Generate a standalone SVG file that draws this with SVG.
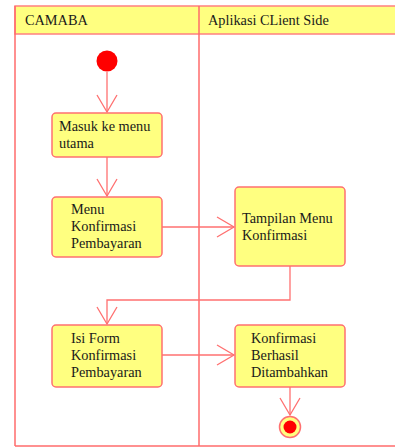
<svg xmlns="http://www.w3.org/2000/svg" width="395" height="447" viewBox="0 0 395 447">
  <defs>
    <style>
      .lane { fill: none; stroke: #ff6b6b; stroke-width: 1.5; }
      .head { fill: #ffff80; stroke: #ff8080; stroke-width: 1.5; }
      .act { fill: #ffff80; stroke: #ff7070; stroke-width: 1.5; }
      .lbl { font-family: "Liberation Serif", "Times New Roman", serif; font-size: 14.3px; fill: #1a1a1a; }
      .flow { fill: none; stroke: #ff7070; stroke-width: 1.3; }
    </style>
    <marker id="open" viewBox="0 0 20 22" refX="18" refY="11" markerWidth="20" markerHeight="22" markerUnits="userSpaceOnUse" orient="auto">
      <path d="M1 1 L18 11 L1 21" fill="none" stroke="#ff7070" stroke-width="1.3"/>
    </marker>
  </defs>

  <!-- swimlanes -->
  <g id="lanes">
    <rect class="head" x="15" y="6" width="390" height="28"/>
    <line class="lane" x1="15" y1="6" x2="15" y2="446"/>
    <line class="lane" x1="199" y1="6" x2="199" y2="446"/>
    <line class="lane" x1="15" y1="446" x2="395" y2="446"/>
    <text class="lbl" x="25" y="25">CAMABA</text>
    <text class="lbl" x="208" y="25">Aplikasi CLient Side</text>
  </g>

  <!-- control flow -->
  <g id="connectors">
    <line class="flow" x1="107" y1="72" x2="107" y2="112" marker-end="url(#open)"/>
    <line class="flow" x1="107" y1="157" x2="107" y2="196" marker-end="url(#open)"/>
    <line class="flow" x1="162" y1="227" x2="234" y2="227" marker-end="url(#open)"/>
    <polyline class="flow" points="290,266 290,300 107,300 107,324" marker-end="url(#open)"/>
    <line class="flow" x1="162" y1="355" x2="234" y2="355" marker-end="url(#open)"/>
    <line class="flow" x1="290" y1="387" x2="290" y2="415" marker-end="url(#open)"/>
  </g>

  <g id="start">
    <circle cx="107" cy="61" r="10.5" fill="#ff0000"/>
  </g>

  <g id="masuk">
    <rect class="act" x="52" y="113" width="110" height="44" rx="4"/>
    <text class="lbl" x="59" y="131">Masuk ke menu</text>
    <text class="lbl" x="59" y="148">utama</text>
  </g>

  <g id="menu-konfirmasi">
    <rect class="act" x="52" y="197" width="110" height="60" rx="4"/>
    <text class="lbl" x="71" y="214">Menu</text>
    <text class="lbl" x="71" y="231">Konfirmasi</text>
    <text class="lbl" x="71" y="248">Pembayaran</text>
  </g>

  <g id="tampilan-menu">
    <rect class="act" x="235" y="187" width="110" height="79" rx="4"/>
    <text class="lbl" x="242" y="223">Tampilan Menu</text>
    <text class="lbl" x="242" y="240">Konfirmasi</text>
  </g>

  <g id="isi-form">
    <rect class="act" x="52" y="325" width="110" height="62" rx="4"/>
    <text class="lbl" x="71" y="343">Isi Form</text>
    <text class="lbl" x="71" y="360">Konfirmasi</text>
    <text class="lbl" x="71" y="377">Pembayaran</text>
  </g>

  <g id="konfirmasi-berhasil">
    <rect class="act" x="235" y="325" width="110" height="62" rx="4"/>
    <text class="lbl" x="251" y="343">Konfirmasi</text>
    <text class="lbl" x="251" y="360">Berhasil</text>
    <text class="lbl" x="251" y="377">Ditambahkan</text>
  </g>

  <g id="end">
    <circle cx="290" cy="427" r="10.5" fill="#ffff80" stroke="#ff7070" stroke-width="1.5"/>
    <circle cx="290" cy="427" r="6.5" fill="#ff0000"/>
  </g>
</svg>
